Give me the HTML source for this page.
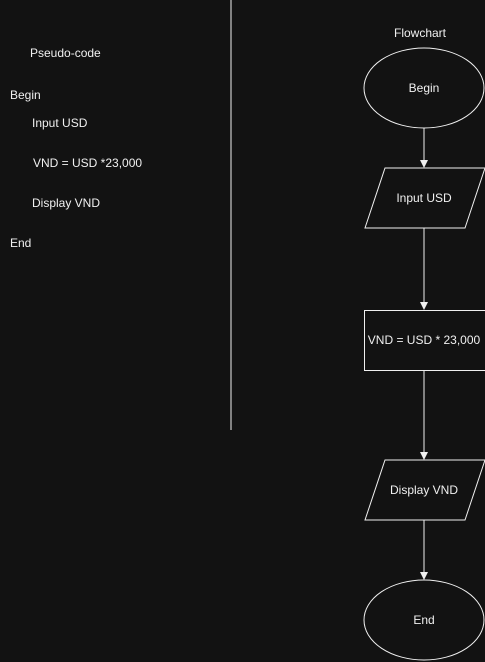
<!DOCTYPE html>
<html><head><style>
html,body{margin:0;padding:0;background:#121212;}
svg{display:block;}
text{font-family:"Liberation Sans",Arial,sans-serif;font-size:12px;fill:#f0f0f0;}
</style></head><body>
<svg width="485" height="662" viewBox="0 0 485 662">
<rect width="485" height="662" fill="#121212"/>
<line x1="231" y1="0" x2="231" y2="430" stroke="#f0f0f0" stroke-width="1"/>
<text x="30" y="57">Pseudo-code</text>
<text x="10" y="99">Begin</text>
<text x="32" y="127">Input USD</text>
<text x="33" y="167">VND = USD *23,000</text>
<text x="32" y="207">Display VND</text>
<text x="10" y="247">End</text>
<text x="420" y="37" text-anchor="middle">Flowchart</text>
<g fill="none" stroke="#f0f0f0" stroke-width="1">
<ellipse cx="424" cy="88" rx="60" ry="40"/>
<line x1="424" y1="128" x2="424" y2="162"/>
<polygon points="385,168 485,168 465,228 365,228"/>
<line x1="424" y1="228" x2="424" y2="304"/>
<rect x="364.5" y="310.5" width="121" height="60"/>
<line x1="424" y1="370" x2="424" y2="454"/>
<polygon points="385,460 485,460 465,520 365,520"/>
<line x1="424" y1="520" x2="424" y2="574"/>
<ellipse cx="424" cy="620" rx="60" ry="40"/>
</g>
<g fill="#f0f0f0">
<polygon points="420,160 428,160 424,168"/>
<polygon points="420,302 428,302 424,310"/>
<polygon points="420,452 428,452 424,460"/>
<polygon points="420,572 428,572 424,580"/>
</g>
<text x="424" y="92" text-anchor="middle">Begin</text>
<text x="424" y="202" text-anchor="middle">Input USD</text>
<text x="424" y="344" text-anchor="middle">VND = USD * 23,000</text>
<text x="424" y="494" text-anchor="middle">Display VND</text>
<text x="424" y="624" text-anchor="middle">End</text>
</svg>
</body></html>
